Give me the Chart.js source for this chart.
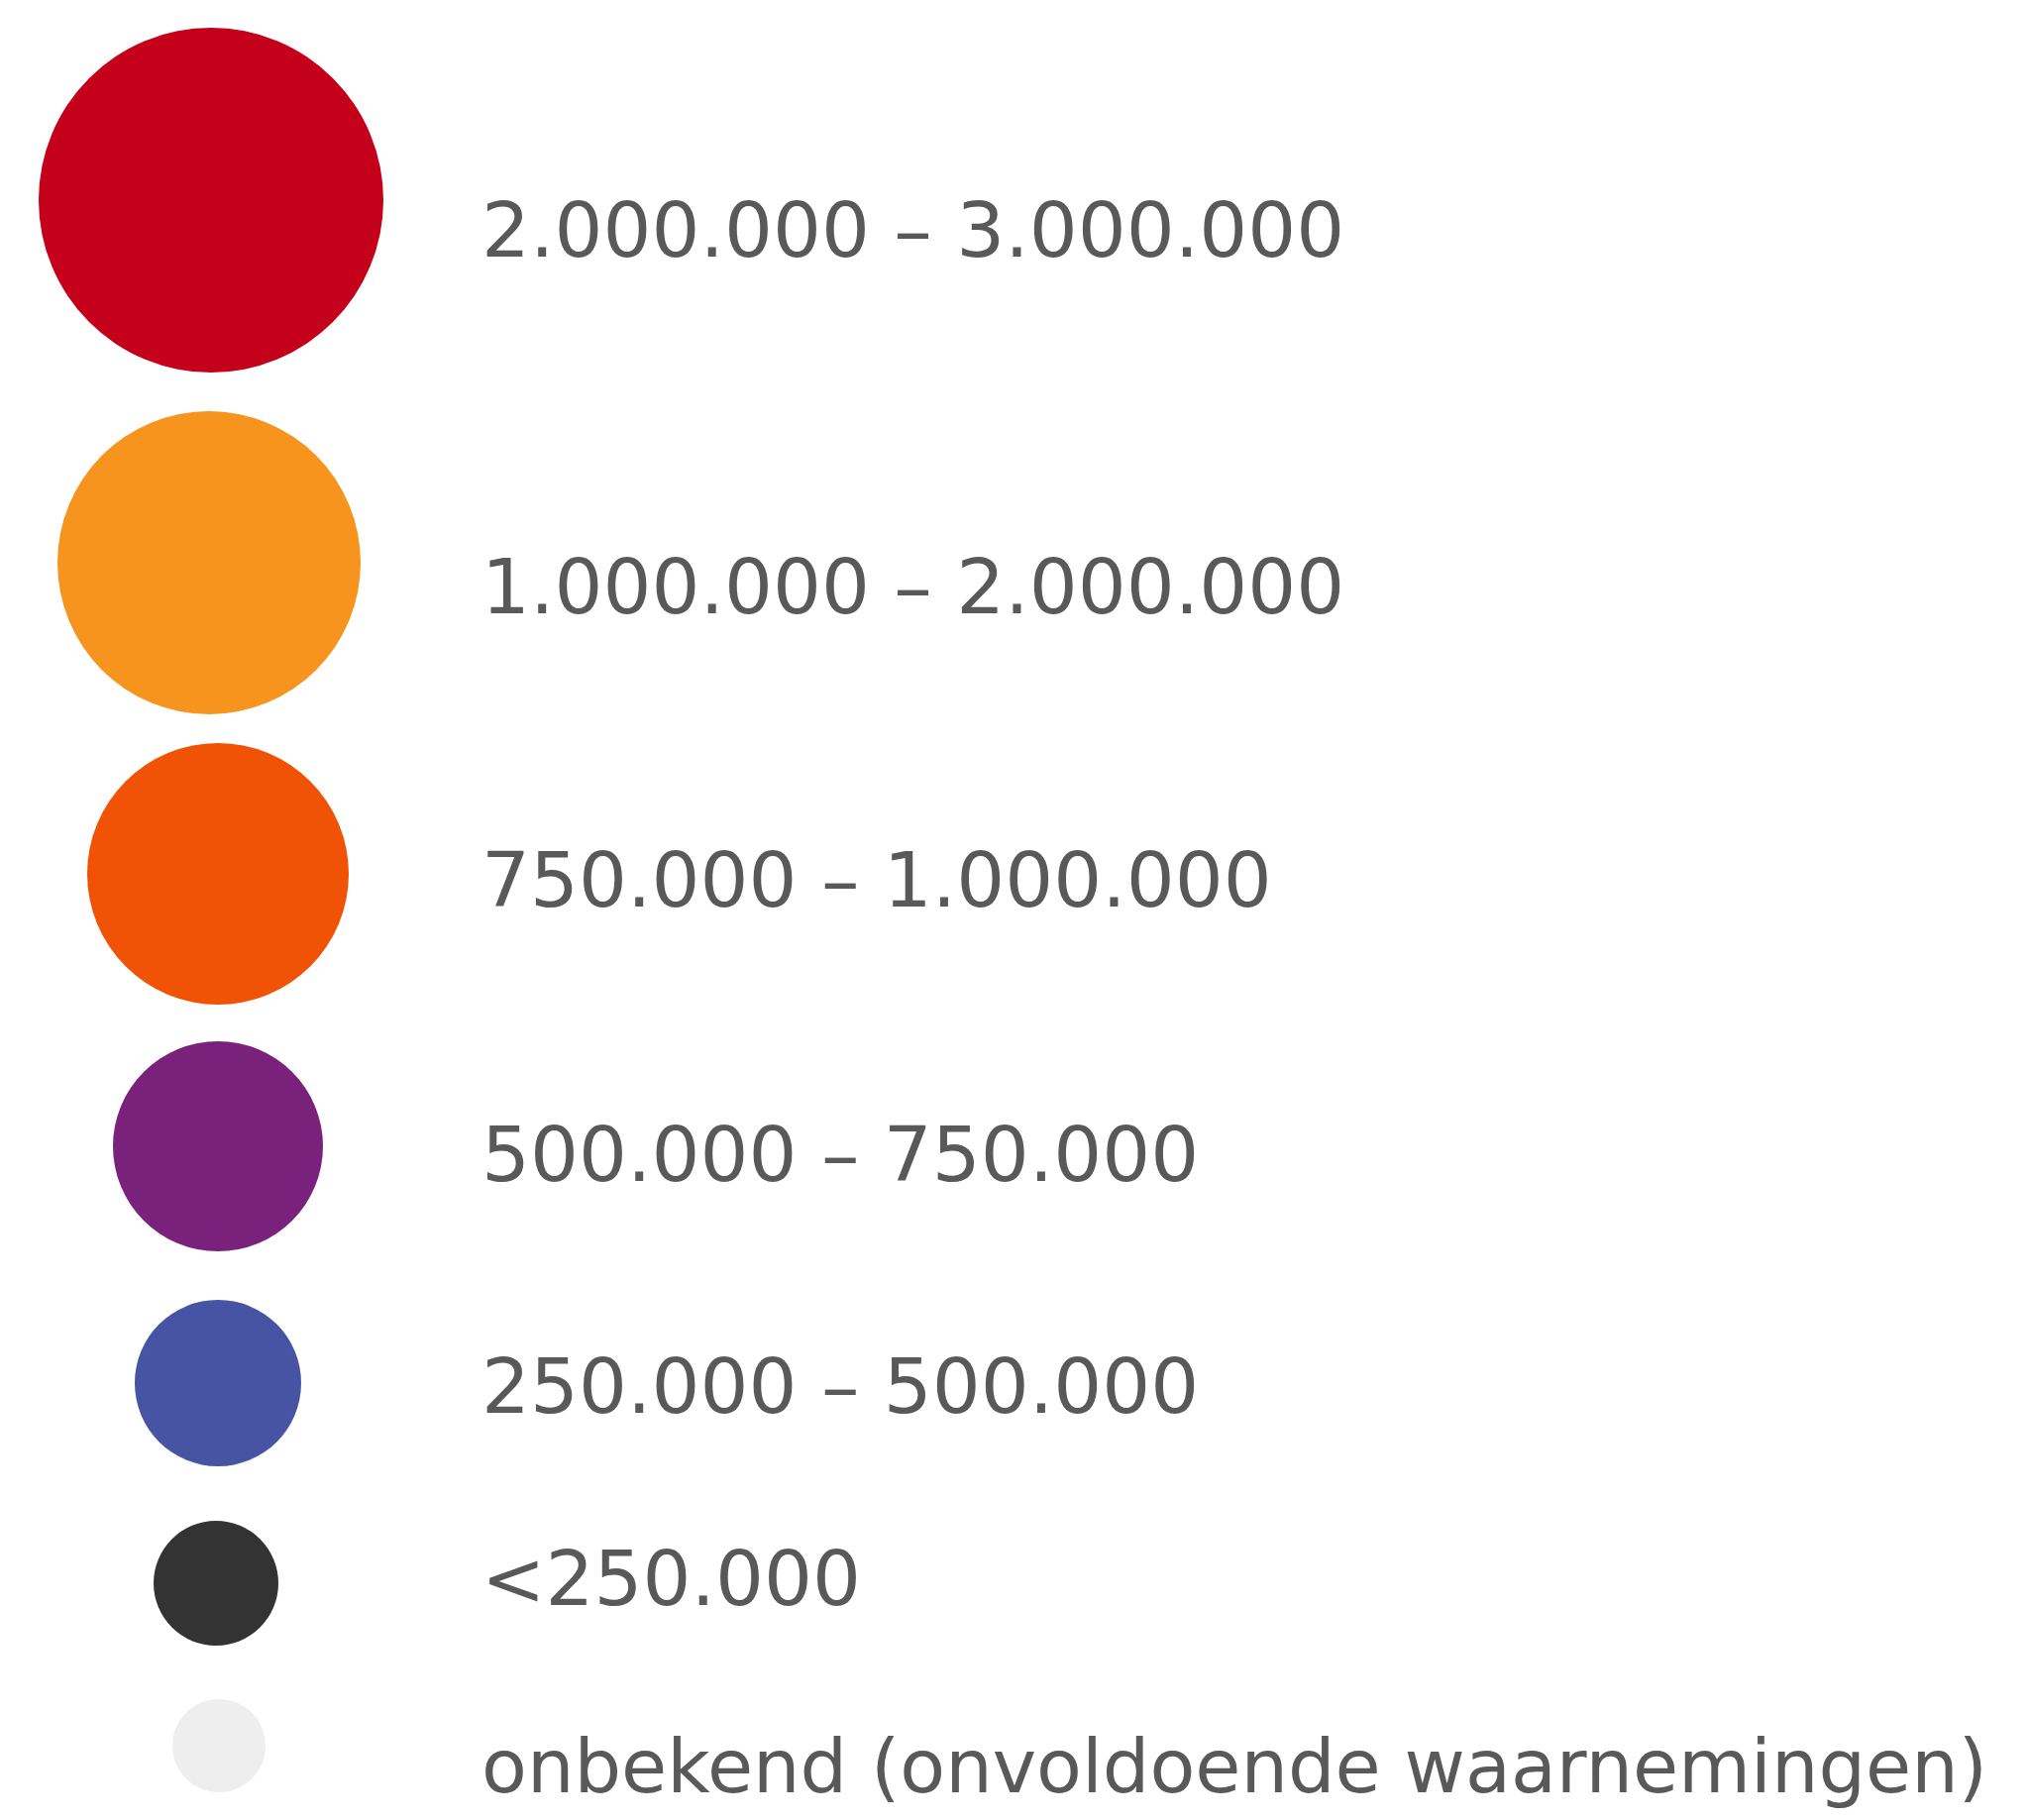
<!DOCTYPE html>
<html>
<head>
<meta charset="utf-8">
<script src="https://cdn.jsdelivr.net/npm/chart.js@4/dist/chart.umd.min.js"></script>
<style>
  html, body { margin: 0; padding: 0; background: #ffffff; }
  #wrap { position: relative; width: 2048px; height: 1837px; }
</style>
</head>
<body>
<div id="wrap"><canvas id="legendChart"></canvas></div>
<script>
'use strict';
// ─────────────────────────────────────────────
//  LEGEND DATA
// ─────────────────────────────────────────────

const RANGE_LABELS = [
  '2.000.000 – 3.000.000',
  '1.000.000 – 2.000.000',
  '750.000 – 1.000.000',
  '500.000 – 750.000',
  '250.000 – 500.000',
  '<250.000',
  'onbekend (onvoldoende waarnemingen)',
];

// circle centres and sizes, in chart units
const CIRCLE_X = [213, 211, 220, 220, 220, 218, 221];
const CIRCLE_Y = [202, 568, 882, 1157, 1396, 1598, 1762];
const CIRCLE_R = [174, 153, 132, 106, 84, 63, 47];

// where each label sits on the y axis
const LABEL_Y = [239, 599, 895, 1172, 1406, 1600, 1790];

const RANGE_COLORS = ['#c4001a', '#f7941e', '#f05206', '#7a217c', '#4654a3', '#333333', '#eeeeee'];

const AXIS_LEFT = 478;

const ctx = document.getElementById('legendChart');

new Chart(ctx, {
  type: 'bubble',
  data: {
    datasets: [{
      label: 'legenda',
      data: CIRCLE_X.map((x, i) => ({ x, y: CIRCLE_Y[i], r: CIRCLE_R[i] })),
      backgroundColor: RANGE_COLORS,
      borderWidth: 0,
      hoverBorderWidth: 0,
      clip: false,
    }],
  },
  options: {
    responsive: true,
    maintainAspectRatio: false,
    animation: false,
    events: [],
    layout: { padding: 0, autoPadding: false },
    plugins: {
      legend: { display: false },
      tooltip: { enabled: false },
    },
    scales: {
      x: {
        type: 'linear',
        display: false,
        min: 0,
        max: AXIS_LEFT,
      },
      y: {
        type: 'linear',
        position: 'right',
        reverse: true,
        min: 0,
        max: 1837,
        grid: { display: false, drawTicks: false },
        border: { display: false },
        afterBuildTicks: scale => {
          scale.ticks = LABEL_Y.map(v => ({ value: v }));
        },
        afterFit: scale => {
          scale.width = 2048 - AXIS_LEFT;
          scale.paddingTop = 0;
          scale.paddingBottom = 0;
        },
        ticks: {
          autoSkip: false,
          padding: 8,
          color: '#595959',
          // the long text label is set a touch narrower in the original
          font: c => ({ family: 'DejaVu Sans', size: c.index === RANGE_LABELS.length - 1 ? 75 : 77 }),
          callback: (value, index) => RANGE_LABELS[index],
        },
      },
    },
  },
});
</script>
</body>
</html>
